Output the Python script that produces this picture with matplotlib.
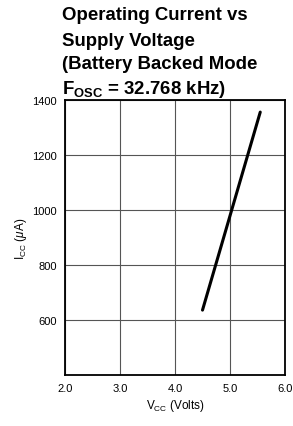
import matplotlib
matplotlib.use("Agg")
import matplotlib.pyplot as plt

vcc = [4.5, 5.55]
icc = [636, 1356]
xticks = [2.0, 3.0, 4.0, 5.0, 6.0]
xticklabels = ["2.0", "3.0", "4.0", "5.0", "6.0"]
yticks = [600, 800, 1000, 1200, 1400]

plt.rcParams['font.family'] = ['Liberation Sans', 'DejaVu Sans']
plt.rcParams['mathtext.fontset'] = 'custom'
plt.rcParams['mathtext.rm'] = 'Liberation Sans'
plt.rcParams['mathtext.it'] = 'Liberation Sans:italic'
plt.rcParams['mathtext.bf'] = 'Liberation Sans:bold'

fig = plt.figure(figsize=(2.93, 4.27), dpi=100)
ax = fig.add_axes([65/293, 1-376/427, 220/293, 275/427])

ax.plot(vcc, icc, color='black', lw=2.2, solid_capstyle='round')
ax.set_xlim(2.0, 6.0)
ax.set_ylim(400, 1400)
ax.set_xticks(xticks)
ax.set_xticklabels(xticklabels)
ax.set_yticks(yticks)
ax.grid(True, color='#555555', lw=0.8)
ax.tick_params(length=0, labelsize=8, pad=6)
for s in ax.spines.values():
    s.set_linewidth(1.3)
ax.set_xlabel(r"V$_{\mathregular{CC}}$ (Volts)", fontsize=8.5, labelpad=3)
ax.set_ylabel(r"I$_{\mathregular{CC}}$ ($\mu$A)", fontsize=8.5, labelpad=2)

title_lines = ["Operating Current vs", "Supply Voltage", "(Battery Backed Mode",
               r"F$_{\mathbf{OSC}}$ = 32.768 kHz)"]
ys = [16, 41, 65, 89]
for t, y in zip(title_lines, ys):
    fig.text(62/293, 1-y/427, t, fontsize=13.4, fontweight='bold', va='center', ha='left')

fig.savefig("out.png", dpi=100)
